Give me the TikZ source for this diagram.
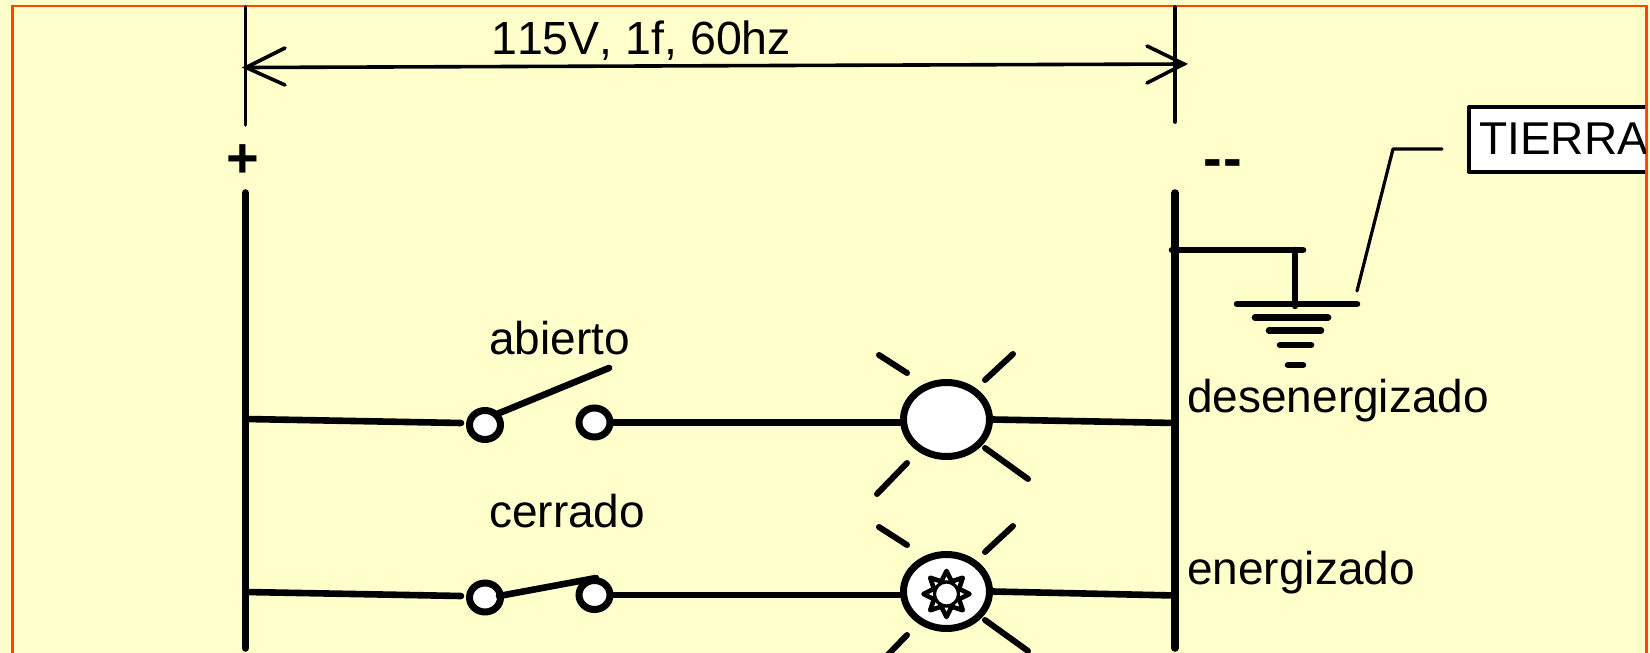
\documentclass[tikz,border=0pt]{standalone}
\usepackage{fontspec}
\setmainfont[Kerning=Off]{Liberation Sans}
\usetikzlibrary{shapes.geometric}
\definecolor{bgy}{HTML}{FFFFCC}
\definecolor{frm}{HTML}{FF4500}
\tikzset{
  thickbus/.style={line width=7.6pt,line cap=round},
  thinline/.style={line width=3.6pt,line cap=round},
  wire/.style={line width=6.6pt,line cap=round},
  gbar/.style={line width=6.6pt,line cap=round},
  lbl/.style={anchor=base west,inner sep=0pt,font=\fontsize{46}{50}\selectfont},
  contact/.style={ellipse,draw,fill=white,line width=7pt,minimum width=31pt,minimum height=29pt,inner sep=0pt},
  lamp/.style={ellipse,draw,fill=white,line width=7pt,minimum width=86pt,minimum height=74pt,inner sep=0pt},
  ray/.style={line width=6pt,line cap=round},
  spike/.style={draw,fill=white,line width=4.6pt,line join=round}
}
\begin{document}
\begin{tikzpicture}[x=1pt,y=-1pt]
\useasboundingbox (0,0) rectangle (1650,653);
\clip (0,0) rectangle (1650,653);
\fill[bgy] (0,0) rectangle (1650,653);
\draw[frm,line width=2.6pt] (12.5,6) rectangle (1646.5,700);

% buses
\coordinate (Lt) at (245.5,7);
\coordinate (Ltb) at (245.5,125);
\coordinate (Rt) at (1175,7);
\coordinate (Rtb) at (1175,122);
\coordinate (Lb) at (245.5,193);
\coordinate (Lbe) at (245.5,648);
\coordinate (Rb) at (1175,193);
\coordinate (Rbe) at (1175,648);
\draw[thinline] (Lt) -- (Ltb);
\draw[thinline] (Rt) -- (Rtb);
\draw[thickbus] (Lb) -- (Lbe);
\draw[thickbus] (Rb) -- (Rbe);

% dimension arrow
\coordinate (DL) at (246,67.5);
\coordinate (DR) at (1184,64);
\draw[thinline] (DL) -- (DR);
\draw[thinline] (285,48) -- (DL) -- (285,85);
\draw[thinline] (1147,46) -- (DR) -- (1147,83);
\node[lbl,font=\fontsize{46.5}{50}\selectfont] (volt) at (491,54) {115V, 1f, 60hz};

% polarity
\node[anchor=center,inner sep=0pt,font=\fontsize{56}{60}\selectfont\bfseries] (plus) at (243,161) {+};
\node[anchor=center,inner sep=0pt,font=\fontsize{56}{60}\selectfont\bfseries] (minus) at (1223,169) {-\kern1pt-};

% ground
\coordinate (G0) at (1172,250);
\coordinate (G1) at (1303,250);
\coordinate (G2) at (1295,250);
\coordinate (G3) at (1295,306);
\draw[gbar] (G0) -- (G1);
\draw[gbar] (G2) -- (G3);
\draw[gbar] (1237,304) -- (1357,304);
\draw[gbar] (1255,317.5) -- (1328,317.5);
\draw[gbar] (1269,330.5) -- (1321,330.5);
\draw[gbar] (1280,345) -- (1311,345);
\draw[gbar] (1288,365) -- (1303,365);

% TIERRA label
\begin{scope}
\clip (1460,100) rectangle (1645,180);
\draw[line width=3.4pt,fill=white,line join=round] (1469,107) rectangle (1700,172);
\node[lbl] (tierra) at (1479,154) {TIERRA};
\end{scope}
\draw[line width=3.2pt,line cap=round,line join=round] (1357,291) -- (1393,149) -- (1442,149);

% row 1
\node[contact] (a1) at (485,425) {};
\node[contact] (a2) at (594.5,422.5) {};
\node[lamp] (lamp1) at (946.5,419.5) {};
\coordinate (L1) at (246,419);
\coordinate (R1) at (1175,423);
\draw[wire] (L1) -- ([xshift=-5pt,yshift=2pt]a1.west);
\draw[wire] (a2.east) -- ([yshift=-3pt]lamp1.west);
\draw[wire] (lamp1.east) -- (R1);
\draw[wire] (497,414) -- (609,368);
\node[lbl] (t1) at (489,354) {abierto};
\node[lbl] (t2) at (1187,412) {desenergizado};
\draw[ray] (879,355) -- (907,373);
\draw[ray] (985,380) -- (1013,354);
\draw[ray] (985,448) -- (1028,479);
\draw[ray] (907,463) -- (877,494);

% row 2
\node[contact] (b1) at (485,597.5) {};
\node[contact] (b2) at (594.5,595) {};
\node[lamp] (lamp2) at (946.5,591.5) {};
\coordinate (L2) at (246,592);
\coordinate (R2) at (1175,595.5);
\draw[wire] (L2) -- ([xshift=-5pt,yshift=1.5pt]b1.west);
\draw[wire] (b2.east) -- ([yshift=-3.5pt]lamp2.west);
\draw[wire] (lamp2.east) -- (R2);
\draw[wire] (499,596) -- (596,578);
\node[lbl] (t3) at (489,527) {cerrado};
\node[lbl] (t4) at (1187,584) {energizado};
\draw[ray] (879,527) -- (907,545);
\draw[ray] (985,552) -- (1013,526);
\draw[ray] (985,620) -- (1028,651);
\draw[ray] (907,635) -- (877,666);

% sun
\foreach \a in {0,45,...,315}{
  \draw[spike,rotate around={\a:(946.5,594)}] (946.5+11,594-6) -- (946.5+23,594) -- (946.5+11,594+6) -- cycle;
}
\draw[fill=white,line width=3.2pt] (946.5,594) circle (12pt);
\end{tikzpicture}
\end{document}
